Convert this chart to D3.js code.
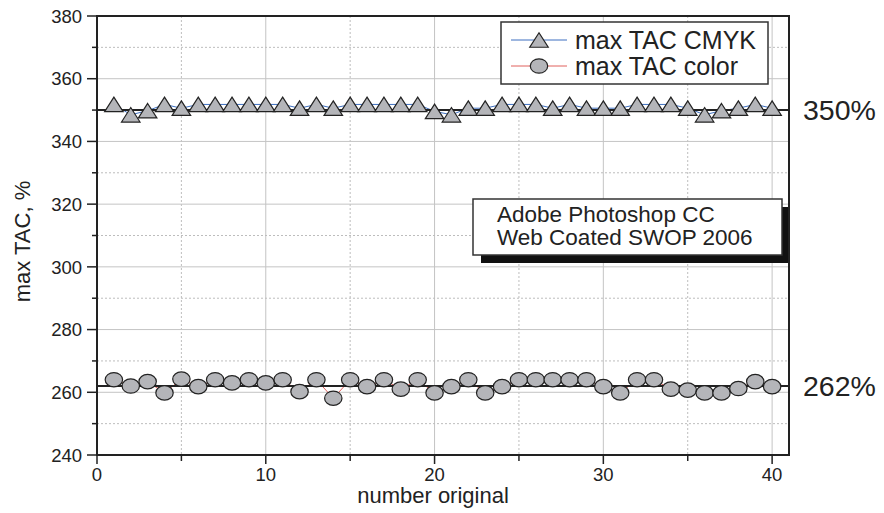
<!DOCTYPE html>
<html>
<head>
<meta charset="utf-8">
<script src="https://cdn.jsdelivr.net/npm/d3@7"></script>
<style>
  body { margin: 0; background: #fff; }
  svg text { font-family: "Liberation Sans", Arial, sans-serif; fill: #222; }
</style>
</head>
<body>
<div id="chart"></div>
<script>
// Data
const numberOriginal = [1, 2, 3, 4, 5, 6, 7, 8, 9, 10, 11, 12, 13, 14, 15, 16, 17, 18, 19, 20,
                        21, 22, 23, 24, 25, 26, 27, 28, 29, 30, 31, 32, 33, 34, 35, 36, 37, 38, 39, 40];
const maxTacCmyk = [351.8, 348.5, 349.8, 351.8, 350.6, 351.8, 351.8, 351.8, 351.8, 351.8,
                    351.8, 350.6, 351.8, 350.6, 351.8, 351.8, 351.8, 351.8, 351.8, 349.6,
                    348.5, 350.6, 350.6, 351.8, 351.8, 351.8, 350.6, 351.8, 350.6, 350.6,
                    350.6, 351.8, 351.8, 351.8, 350.6, 348.5, 349.8, 350.6, 351.8, 350.6];
const maxTacColor = [264, 262, 263.4, 259.8, 264.2, 261.8, 264, 263, 264, 263,
                     264, 260.2, 264, 258.1, 264, 261.8, 264, 261, 264, 259.8,
                     261.8, 264, 259.8, 261.8, 264, 264, 264, 264, 264, 261.8,
                     259.8, 264, 264, 261, 260.7, 259.8, 259.8, 261.2, 263.4, 261.8];
const refLevels = [350, 262];
const refLabels = ["350%", "262%"];
const xTicks = [0, 10, 20, 30, 40];
const xMinorTicks = [5, 15, 25, 35];
const yTicks = [240, 260, 280, 300, 320, 340, 360, 380];
const yMinorTicks = [250, 270, 290, 310, 330, 350, 370];
const seriesNames = ["max TAC CMYK", "max TAC color"];
const noteLines = ["Adobe Photoshop CC", "Web Coated SWOP 2006"];

const width = 884, height = 513;
const plotLeft = 97, plotRight = 789, plotTop = 16, plotBottom = 455;

const svg = d3.select("#chart").append("svg")
    .attr("width", width)
    .attr("height", height);

const x = d3.scaleLinear().domain([0, 41]).range([plotLeft, plotRight]);
const y = d3.scaleLinear().domain([240, 380]).range([plotBottom, plotTop]);

// Grid lines
const grid = svg.append("g");
grid.selectAll(".vmaj").data(xTicks.slice(1)).enter().append("line")
    .attr("x1", d => x(d)).attr("x2", d => x(d))
    .attr("y1", plotTop).attr("y2", plotBottom)
    .attr("stroke", "#c4c4c4").attr("stroke-width", 1);
grid.selectAll(".vmin").data(xMinorTicks).enter().append("line")
    .attr("x1", d => x(d)).attr("x2", d => x(d))
    .attr("y1", plotTop).attr("y2", plotBottom)
    .attr("stroke", "#bdbdbd").attr("stroke-width", 1).attr("stroke-dasharray", "2,2");
grid.selectAll(".hmaj").data(yTicks.slice(1, -1)).enter().append("line")
    .attr("x1", plotLeft).attr("x2", plotRight)
    .attr("y1", d => y(d)).attr("y2", d => y(d))
    .attr("stroke", "#c4c4c4").attr("stroke-width", 1);
grid.selectAll(".hmin").data(yMinorTicks).enter().append("line")
    .attr("x1", plotLeft).attr("x2", plotRight)
    .attr("y1", d => y(d)).attr("y2", d => y(d))
    .attr("stroke", "#bdbdbd").attr("stroke-width", 1).attr("stroke-dasharray", "2,2");

// Series lines (thin, mostly hidden by markers)
const line = d3.line().x((d, i) => x(numberOriginal[i])).y(d => y(d));
svg.append("path").datum(maxTacCmyk)
    .attr("d", line).attr("fill", "none").attr("stroke", "#3d6fc0").attr("stroke-width", 1);
svg.append("path").datum(maxTacColor)
    .attr("d", line).attr("fill", "none").attr("stroke", "#e0605c").attr("stroke-width", 1);

// Reference lines
svg.selectAll(".ref").data(refLevels).enter().append("line")
    .attr("x1", plotLeft).attr("x2", plotRight)
    .attr("y1", d => y(d)).attr("y2", d => y(d))
    .attr("stroke", "#222").attr("stroke-width", 2);

svg.selectAll(".refLabel").data(refLevels).enter().append("text")
    .attr("x", 803)
    .attr("y", d => y(d))
    .attr("dy", "0.36em")
    .style("font-size", "28.5px")
    .text((d, i) => refLabels[i]);

// Markers
function trianglePath(cx, cy, w, h) {
  return "M" + cx + "," + (cy - h / 2) + "L" + (cx + w / 2) + "," + (cy + h / 2) +
         "L" + (cx - w / 2) + "," + (cy + h / 2) + "Z";
}

svg.selectAll(".tri").data(maxTacCmyk).enter().append("path")
    .attr("d", (d, i) => trianglePath(x(numberOriginal[i]), y(d), 18.5, 14.5))
    .attr("fill", "#b4b5b9").attr("stroke", "#222").attr("stroke-width", 1.2);

svg.selectAll(".circ").data(maxTacColor).enter().append("ellipse")
    .attr("cx", (d, i) => x(numberOriginal[i]))
    .attr("cy", d => y(d))
    .attr("rx", 8.7).attr("ry", 7.2)
    .attr("fill", "#b4b5b9").attr("stroke", "#222").attr("stroke-width", 1.2);

// Frame
svg.append("rect")
    .attr("x", plotLeft).attr("y", plotTop)
    .attr("width", plotRight - plotLeft).attr("height", plotBottom - plotTop)
    .attr("fill", "none").attr("stroke", "#222").attr("stroke-width", 2);

// Y axis ticks and labels
svg.selectAll(".yt").data(yTicks).enter().append("line")
    .attr("x1", plotLeft - 10).attr("x2", plotLeft)
    .attr("y1", d => y(d)).attr("y2", d => y(d))
    .attr("stroke", "#222").attr("stroke-width", 1.5);
svg.selectAll(".ytm").data(yMinorTicks).enter().append("line")
    .attr("x1", plotLeft - 5).attr("x2", plotLeft)
    .attr("y1", d => y(d)).attr("y2", d => y(d))
    .attr("stroke", "#222").attr("stroke-width", 1.5);
svg.selectAll(".yl").data(yTicks).enter().append("text")
    .attr("x", plotLeft - 15).attr("y", d => y(d))
    .attr("dy", "0.36em").attr("text-anchor", "end")
    .style("font-size", "18.5px")
    .text(d => d);

// X axis ticks and labels
svg.selectAll(".xt").data(xTicks).enter().append("line")
    .attr("x1", d => x(d)).attr("x2", d => x(d))
    .attr("y1", plotBottom).attr("y2", plotBottom + 9)
    .attr("stroke", "#222").attr("stroke-width", 1.5);
svg.selectAll(".xtm").data(xMinorTicks).enter().append("line")
    .attr("x1", d => x(d)).attr("x2", d => x(d))
    .attr("y1", plotBottom).attr("y2", plotBottom + 6)
    .attr("stroke", "#222").attr("stroke-width", 1.5);
svg.selectAll(".xl").data(xTicks).enter().append("text")
    .attr("x", d => x(d)).attr("y", 481)
    .attr("text-anchor", "middle")
    .style("font-size", "18.5px")
    .text(d => d);

// Axis titles
svg.append("text")
    .attr("x", 433).attr("y", 503)
    .attr("text-anchor", "middle")
    .style("font-size", "22px")
    .text("number original");
svg.append("text")
    .attr("transform", "translate(30," + ((plotTop + plotBottom) / 2 + 6) + ") rotate(-90)")
    .attr("text-anchor", "middle")
    .style("font-size", "22px")
    .text("max TAC, %");

// Legend
const legend = svg.append("g");
legend.append("rect")
    .attr("x", 501).attr("y", 22).attr("width", 267).attr("height", 62)
    .attr("fill", "#fff").attr("stroke", "#333").attr("stroke-width", 1.5);
const legendColors = ["#3d6fc0", "#e0605c"];
seriesNames.forEach(function(name, i) {
  const ly = 40 + i * 26;
  legend.append("line")
      .attr("x1", 511).attr("x2", 567).attr("y1", ly).attr("y2", ly)
      .attr("stroke", legendColors[i]).attr("stroke-width", 1);
  if (i === 0) {
    legend.append("path").attr("d", trianglePath(539, ly, 18.5, 14.5))
        .attr("fill", "#b4b5b9").attr("stroke", "#222").attr("stroke-width", 1.2);
  } else {
    legend.append("ellipse").attr("cx", 539).attr("cy", ly).attr("rx", 8.7).attr("ry", 7.2)
        .attr("fill", "#b4b5b9").attr("stroke", "#222").attr("stroke-width", 1.2);
  }
  legend.append("text")
      .attr("x", 575).attr("y", ly).attr("dy", "0.36em")
      .style("font-size", "25px")
      .text(name);
});

// Note box with shadow
svg.append("rect")
    .attr("x", 481).attr("y", 207).attr("width", 307).attr("height", 56)
    .attr("fill", "#111");
svg.append("rect")
    .attr("x", 473).attr("y", 199).attr("width", 309).attr("height", 56)
    .attr("fill", "#fff").attr("stroke", "#333").attr("stroke-width", 1.5);
svg.selectAll(".note").data(noteLines).enter().append("text")
    .attr("x", 497).attr("y", (d, i) => 222 + i * 23)
    .style("font-size", "22.5px")
    .text(d => d);
</script>
</body>
</html>
